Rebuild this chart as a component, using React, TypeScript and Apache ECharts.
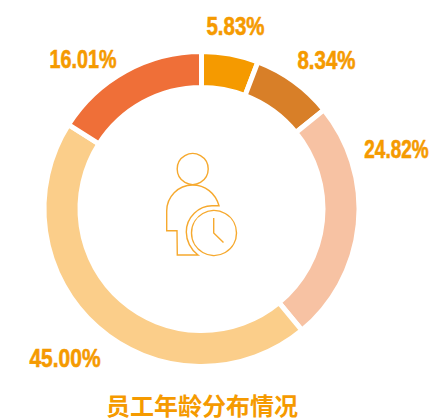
import React, { useEffect, useRef } from "react";
import * as echarts from "echarts";

const categories = ["A", "B", "C", "D", "E"];
const seriesValues = [5.83, 8.34, 24.82, 45.0, 16.01];
const colors = ["#F59A00", "#D87F28", "#F7C2A3", "#FBCE8A", "#EF6F38"];
const labelCenters = [
  [235.5, 26],
  [326.5, 60],
  [396.5, 150],
  [65, 358],
  [83, 60],
];
const labelScaleX = [0.82, 0.82, 0.76, 0.84, 0.79];
const titleText = "员工年龄分布情况";

const bodyPath =
  "M219 205.8 C215.5 193 205 185 192.5 185 C178 185 166.7 197 166.7 211 L166.7 230.7 L177 230.7 L177.3 255 L198 255 C190.5 249.5 186.3 240.5 186.3 232 C186.3 217 199 205.8 212 205.8 Z";
const handsPath = "M213.7 218 L213.7 233 L223.5 242.5";

export default function App() {
  const ref = useRef<HTMLDivElement>(null);
  useEffect(() => {
    const chart = echarts.init(ref.current!, undefined, { renderer: "svg" });
    echarts.graphic.registerShape("personBody", echarts.graphic.extendPath(bodyPath, {}) as any);
    echarts.graphic.registerShape("clockHands", echarts.graphic.extendPath(handsPath, {}) as any);
    const iconStyle = { fill: "none", stroke: "#F6A92E", lineWidth: 1.4 };
    chart.setOption({
      animation: false,
      backgroundColor: "#fff",
      title: {
        text: titleText,
        left: 197,
        top: 387,
        textAlign: "center",
        textStyle: {
          fontFamily: "'Noto Sans CJK SC'",
          fontWeight: "bold",
          fontSize: 24,
          color: "#F59A00",
        },
      },
      graphic: [
        { type: "circle", shape: { cx: 192.7, cy: 169, r: 15.5 }, style: iconStyle },
        { type: "personBody", style: iconStyle },
        { type: "circle", shape: { cx: 214, cy: 233, r: 22.5 }, style: iconStyle },
        { type: "clockHands", style: iconStyle },
        ...seriesValues.map((v, i) => ({
          type: "text",
          x: labelCenters[i][0],
          y: labelCenters[i][1],
          scaleX: labelScaleX[i],
          style: {
            text: v.toFixed(2) + "%",
            fontFamily: "'Liberation Sans'",
            fontWeight: "bold",
            fontSize: 25,
            fill: "#F59A00",
            stroke: "#F59A00",
            lineWidth: 0.6,
            textAlign: "center",
            textVerticalAlign: "middle",
          },
        })),
      ],
      series: [
        {
          type: "pie",
          center: [201.5, 209],
          radius: [121.5, 157.5],
          startAngle: 90,
          clockwise: true,
          itemStyle: { borderColor: "#fff", borderWidth: 5 },
          label: { show: false },
          labelLine: { show: false },
          data: categories.map((name, i) => ({
            name,
            value: seriesValues[i],
            itemStyle: { color: colors[i] },
          })),
        },
      ],
    });
    return () => chart.dispose();
  }, []);
  return <div ref={ref} style={{ position: "fixed", left: 0, top: 0, width: 429, height: 419 }} />;
}
